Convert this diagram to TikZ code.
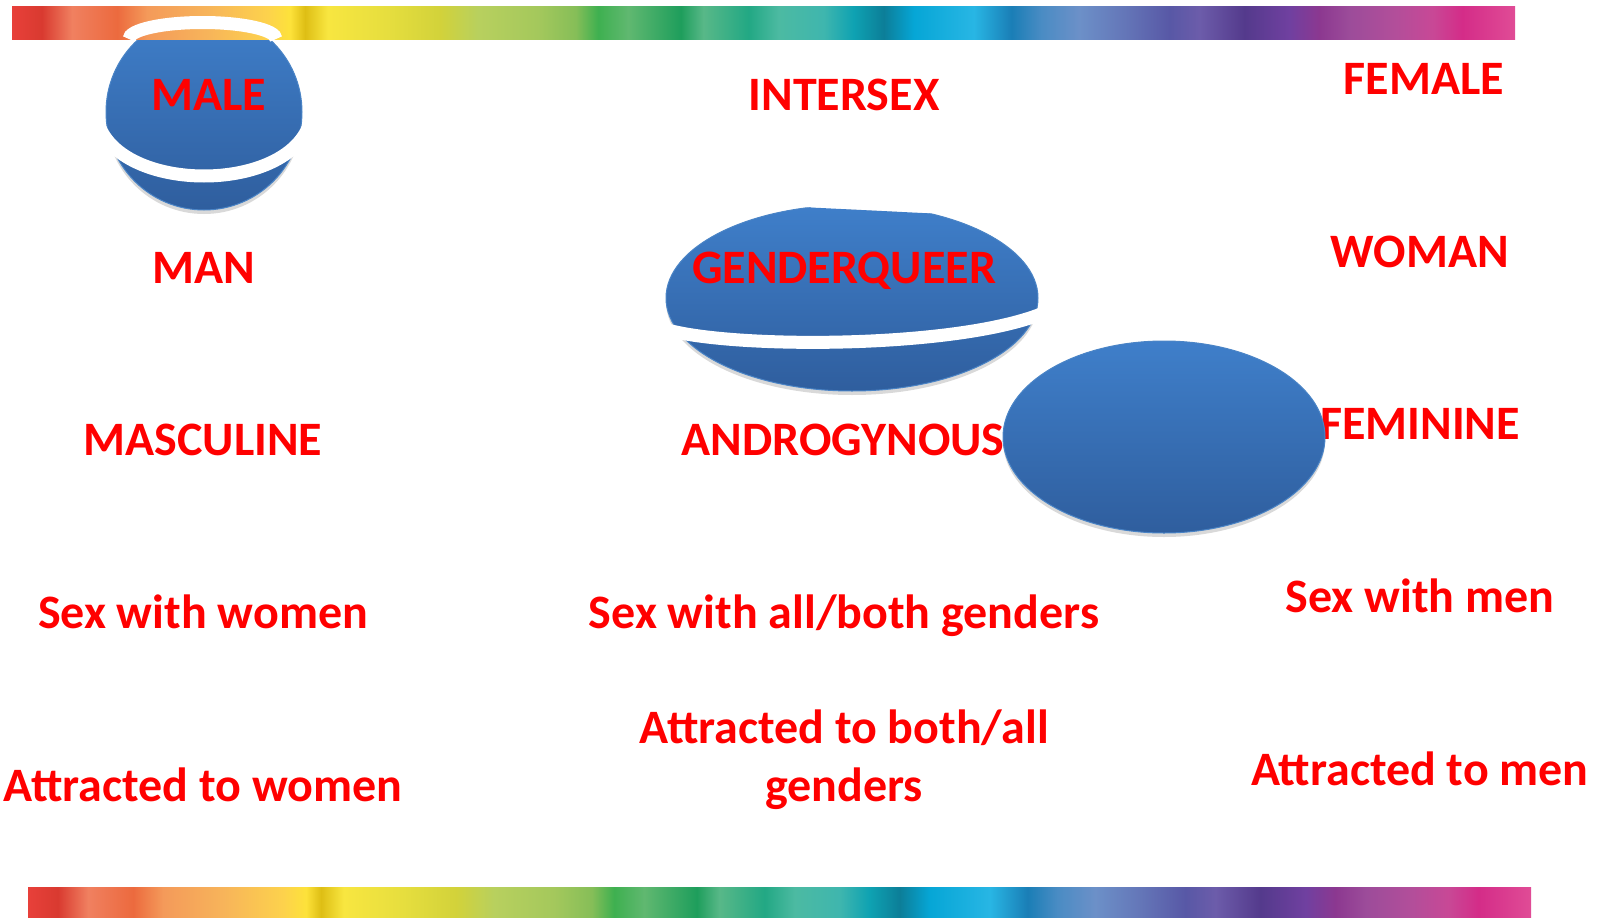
\documentclass[tikz,border=0pt]{standalone}
\usepackage{fontspec}
\setmainfont{Carlito}
\usetikzlibrary{shadows}

\definecolor{blobtop}{HTML}{3F7FCA}
\definecolor{blobbot}{HTML}{2F5E9E}
\definecolor{blobedge}{HTML}{4A84C6}

\definecolor{rb00}{HTML}{E8403A}\definecolor{rb01}{HTML}{D93A30}
\definecolor{rb02}{HTML}{F08060}\definecolor{rb03}{HTML}{EC6A3E}
\definecolor{rb04}{HTML}{F49A5A}\definecolor{rb05}{HTML}{F7B45A}
\definecolor{rb06}{HTML}{FDD24C}\definecolor{rb07}{HTML}{FDE23A}
\definecolor{rb08}{HTML}{DEBE14}\definecolor{rb09}{HTML}{F8E640}
\definecolor{rb10}{HTML}{E6DE3E}\definecolor{rb11}{HTML}{D2D23A}
\definecolor{rb12}{HTML}{B8D05E}\definecolor{rb13}{HTML}{A4C85C}
\definecolor{rb14}{HTML}{86BE58}\definecolor{rb15}{HTML}{3EB050}
\definecolor{rb16}{HTML}{60B870}\definecolor{rb17}{HTML}{1E9E5C}
\definecolor{rb18}{HTML}{58B888}\definecolor{rb19}{HTML}{22A884}
\definecolor{rb20}{HTML}{4CBAA2}\definecolor{rb21}{HTML}{3FB6AE}
\definecolor{rb22}{HTML}{0EA2B2}\definecolor{rb23}{HTML}{0C7E98}
\definecolor{rb24}{HTML}{06A6D6}\definecolor{rb25}{HTML}{28B6E4}
\definecolor{rb26}{HTML}{1A7EB6}\definecolor{rb27}{HTML}{4A8CC4}
\definecolor{rb28}{HTML}{6C90C8}\definecolor{rb29}{HTML}{6476B8}
\definecolor{rb30}{HTML}{5858A6}\definecolor{rb31}{HTML}{6C5CAA}
\definecolor{rb32}{HTML}{543A8C}\definecolor{rb33}{HTML}{7040A0}
\definecolor{rb34}{HTML}{8C3890}\definecolor{rb35}{HTML}{9C4C9A}
\definecolor{rb36}{HTML}{B24E9A}\definecolor{rb37}{HTML}{C84896}
\definecolor{rb38}{HTML}{D42C88}\definecolor{rb39}{HTML}{E04C96}

\pgfdeclarehorizontalshading{rainbow}{100bp}{color(0bp)=(rb00); color(25bp)=(rb00);
  color(26bp)=(rb01); color(27bp)=(rb02); color(28.5bp)=(rb03); color(29.5bp)=(rb04);
  color(31.5bp)=(rb05); color(33.5bp)=(rb06); color(34.25bp)=(rb07); color(34.75bp)=(rb08);
  color(35.5bp)=(rb09); color(37.5bp)=(rb10); color(39.25bp)=(rb11); color(40.5bp)=(rb12);
  color(42.5bp)=(rb13); color(43.75bp)=(rb14); color(44.5bp)=(rb15); color(45.5bp)=(rb16);
  color(47.25bp)=(rb17); color(48bp)=(rb18); color(49.5bp)=(rb19); color(50.5bp)=(rb20);
  color(52bp)=(rb21); color(53bp)=(rb22); color(54bp)=(rb23); color(55bp)=(rb24);
  color(57bp)=(rb25); color(58.25bp)=(rb26); color(59.25bp)=(rb27); color(60.5bp)=(rb28);
  color(62bp)=(rb29); color(63.5bp)=(rb30); color(64.5bp)=(rb31); color(66bp)=(rb32);
  color(67.5bp)=(rb33); color(68.5bp)=(rb34); color(69.5bp)=(rb35); color(71bp)=(rb36);
  color(72.25bp)=(rb37); color(73.25bp)=(rb38); color(75bp)=(rb39); color(100bp)=(rb39)}

\tikzset{
  lbl/.style={text=red,font=\bfseries\fontsize{48}{58}\selectfont,inner sep=0pt,anchor=base,align=center},
  blob/.style={top color=blobtop,bottom color=blobbot,draw=blobedge,line width=1pt,
    drop shadow={shadow xshift=0pt,shadow yshift=-4pt,opacity=.25,fill=black!60}},
  ring/.style={draw=white,line width=13pt},
  bar/.style={shading=rainbow}
}

\begin{document}
\begin{tikzpicture}[x=1pt,y=-1pt]
\useasboundingbox (0,0) rectangle (1604,918);

\draw[blob] (204,112) circle [radius=98];
\shade[bar] (12,6) rectangle (1515,39);
\draw[ring] (129,39) .. controls (129,29.9) and (161.9,22.5) .. (202.5,22.5) .. controls (243.1,22.5) and (276,29.9) .. (276,39);
\draw[ring] (100,128) .. controls (128,192) and (280,192) .. (308,128);

\shade[bar] (28,887) rectangle (1531,918);

\begin{scope}
\clip (640,230) -- (770,205.5) -- (963,215) -- (1060,240) -- (1060,420) -- (640,420) -- cycle;
\draw[blob] (852,298) ellipse [x radius=186,y radius=93];
\end{scope}
\draw[ring] (664,329) .. controls (730,349) and (960,349) .. (1046,312);

\node[lbl] (male)     at (209,110)  {MALE};
\node[lbl] (intersex) at (844,110)  {INTERSEX};
\node[lbl] (female)   at (1424,94)  {FEMALE};
\node[lbl] (man)      at (204,283)  {MAN};
\node[lbl] (gq)       at (844,283)  {GENDERQUEER};
\node[lbl] (woman)    at (1420,267) {WOMAN};
\node[lbl] (masc)     at (203,455)  {MASCULINE};
\node[lbl] (andro)    at (843,455)  {ANDROGYNOUS};
\node[lbl] (fem)      at (1420,439) {FEMININE};
\node[lbl] (sexw)     at (203,628)  {Sex with women};
\node[lbl] (sexall)   at (844,628)  {Sex with all/both genders};
\node[lbl] (sexm)     at (1420,612) {Sex with men};
\node[lbl] (attrall)  at (844,801)  {Attracted to both/all\\genders};
\node[lbl] (attrw)    at (203,801)  {Attracted to women};
\node[lbl] (attrm)    at (1420,785) {Attracted to men};

\draw[blob] (1164,437) ellipse [x radius=161,y radius=96];
\end{tikzpicture}
\end{document}
